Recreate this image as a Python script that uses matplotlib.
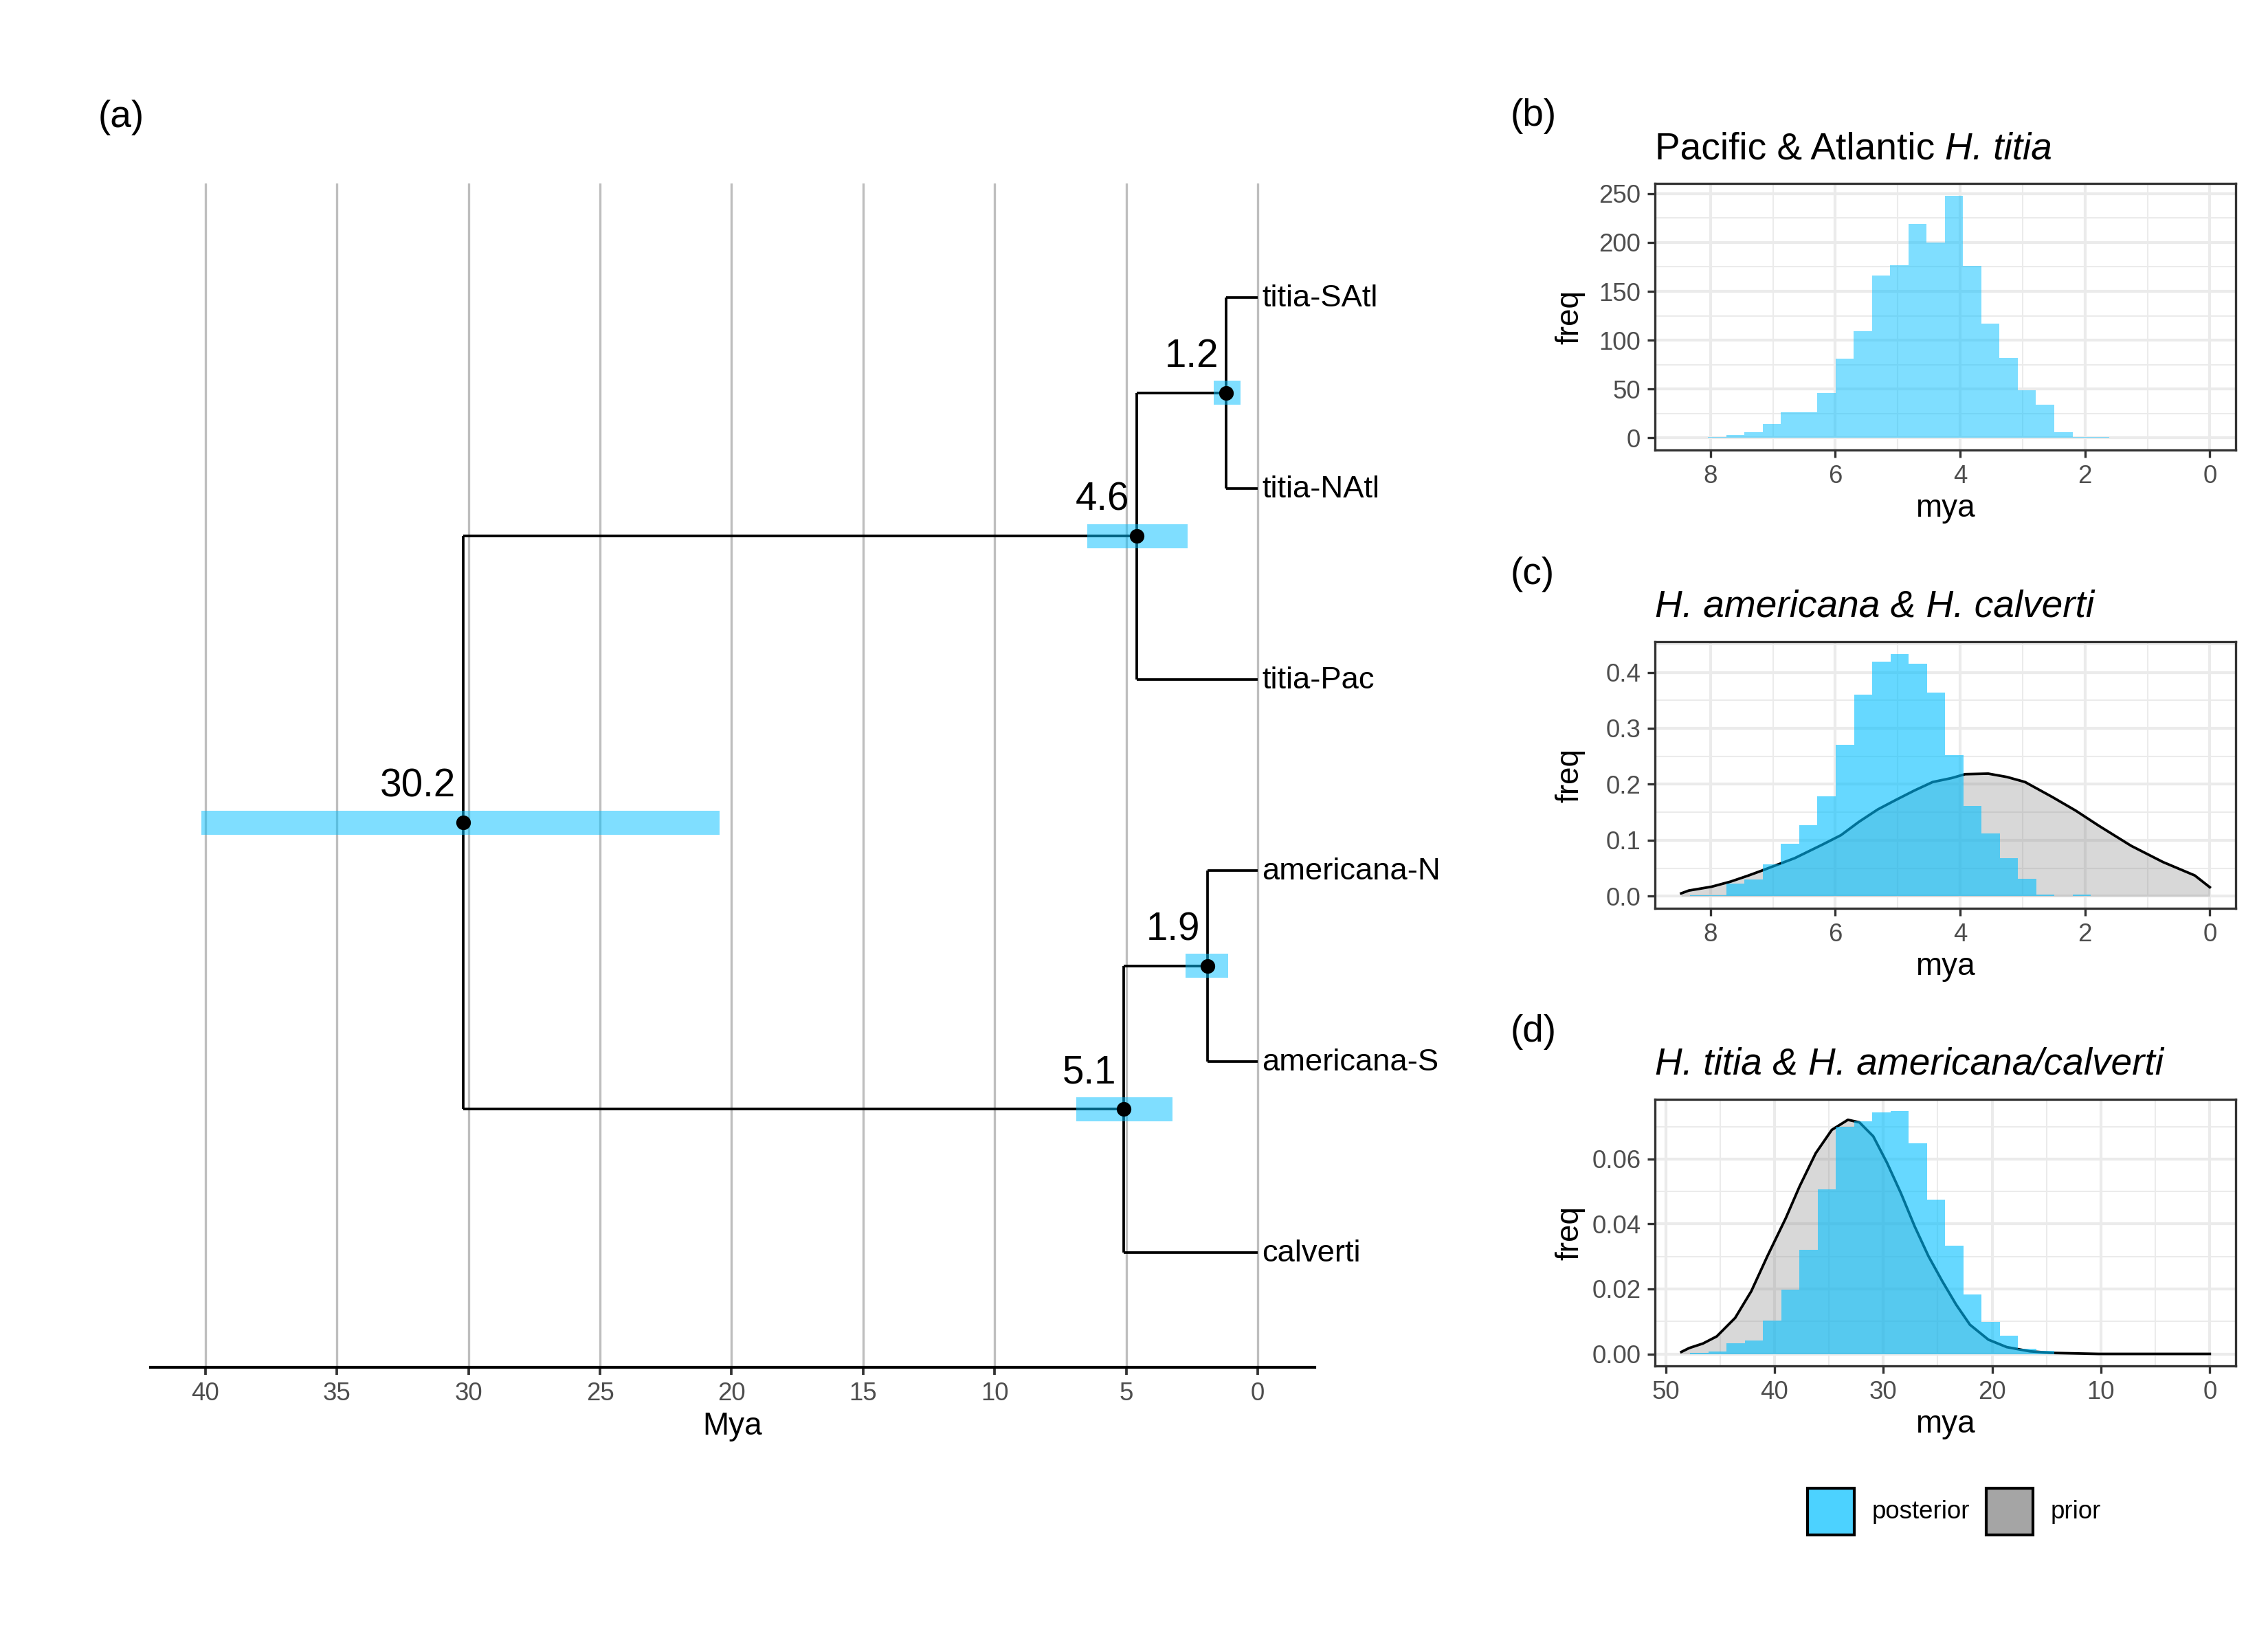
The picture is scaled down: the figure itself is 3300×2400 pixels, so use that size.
import matplotlib
matplotlib.use("Agg")
import matplotlib.pyplot as plt
from matplotlib.patches import Rectangle
from matplotlib.ticker import MultipleLocator
import numpy as np

plt.rcParams["font.family"] = ["Liberation Sans", "DejaVu Sans"]

W, H = 3300, 2400

# ---- panel (a): dated tree ----
tip_names = ["calverti", "americana-S", "americana-N", "titia-Pac", "titia-NAtl", "titia-SAtl"]
node_names = ["root", "titia", "atl", "amcal", "am"]
node_age = [30.2, 4.6, 1.2, 5.1, 1.9]
ci_young = [20.45, 2.66, 0.64, 3.23, 1.11]
ci_old = [40.16, 6.48, 1.67, 6.90, 2.74]
children = {
    "root": ["amcal", "titia"],
    "titia": ["titia-Pac", "atl"],
    "atl": ["titia-NAtl", "titia-SAtl"],
    "amcal": ["calverti", "am"],
    "am": ["americana-S", "americana-N"],
}

# ---- panel (b): Pacific & Atlantic H. titia posterior counts ----
b_start, b_width = 8.04, 0.292
b_counts = [1, 3, 6, 14, 26, 26, 46, 81, 109, 166, 177, 219, 200, 248,
            176, 117, 82, 49, 34, 6, 1, 1]

# ---- panel (c): H. americana & H. calverti ----
c_start, c_width = 8.33, 0.292
c_post = [0.002, 0.002, 0.022, 0.030, 0.057, 0.094, 0.127, 0.179, 0.271, 0.360,
          0.419, 0.433, 0.415, 0.364, 0.252, 0.161, 0.112, 0.068, 0.031, 0.003,
          0.0, 0.003]
c_prior_x = [8.47, 8.35, 7.98, 7.68, 7.39, 7.17, 6.65, 6.21, 5.91, 5.62, 5.32,
             5.03, 4.73, 4.44, 4.14, 3.92, 3.55, 3.25, 2.96, 2.52, 2.15, 1.78,
             1.26, 0.75, 0.24, 0.0]
c_prior_y = [0.005, 0.010, 0.017, 0.026, 0.037, 0.046, 0.068, 0.092, 0.109, 0.133,
             0.155, 0.172, 0.189, 0.204, 0.211, 0.218, 0.219, 0.213, 0.204, 0.177,
             0.153, 0.126, 0.090, 0.061, 0.037, 0.016]

# ---- panel (d): H. titia & H. americana/calverti ----
d_start, d_width = 47.76, 1.675
d_post = [0.0004, 0.0008, 0.0032, 0.0041, 0.0102, 0.0198, 0.0320, 0.0507, 0.0700,
          0.0716, 0.0744, 0.0747, 0.0648, 0.0476, 0.0333, 0.0184, 0.0098, 0.0057,
          0.0015, 0.0009]
d_prior_x = [48.56, 47.84, 46.57, 45.30, 43.61, 42.13, 40.65, 38.96, 37.69, 36.21,
             34.73, 33.25, 32.19, 30.92, 29.65, 28.38, 27.12, 25.85, 24.58, 23.31,
             22.04, 20.35, 18.66, 16.54, 14.42, 10.19, 0.0]
d_prior_y = [0.0006, 0.0018, 0.0032, 0.0054, 0.0111, 0.0193, 0.0301, 0.0418, 0.0516,
             0.0618, 0.0690, 0.0721, 0.0713, 0.0670, 0.0588, 0.0495, 0.0393, 0.0301,
             0.0224, 0.0152, 0.0090, 0.0044, 0.0021, 0.0008, 0.0003, 0.0, 0.0]

SKY = "#00BFFF"
PRIOR = "#7F7F7F"
TICK_C = "#4D4D4D"


def fx(px):
    return px / W


def fy(py):
    return 1 - py / H


fig = plt.figure(figsize=(11, 8), dpi=300)

# ================= panel (a) =================
ax = fig.add_axes([fx(219), fy(1990), fx(1913) - fx(219), fy(267) - fy(1990)])
ypos = {n: i + 1 for i, n in enumerate(tip_names)}
xpos = {n: 0.0 for n in tip_names}
for n, a in zip(node_names, node_age):
    xpos[n] = a


def node_y(n):
    if n in ypos:
        return ypos[n]
    ys = [node_y(c) for c in children[n]]
    ypos[n] = float(np.mean(ys))
    return ypos[n]


node_y("root")
for p, kids in children.items():
    ky = [ypos[k] for k in kids]
    ax.plot([xpos[p], xpos[p]], [min(ky), max(ky)], color="black", lw=0.9,
            solid_capstyle="butt", zorder=2)
    for k in kids:
        ax.plot([xpos[p], xpos[k]], [ypos[k], ypos[k]], color="black", lw=0.9,
                solid_capstyle="butt", zorder=2)

for n, lo, hi in zip(node_names, ci_young, ci_old):
    ax.barh(ypos[n], hi - lo, left=lo, height=0.125, color=SKY, alpha=0.5,
            lw=0, zorder=3)
nx = [xpos[n] for n in node_names]
ny = [ypos[n] for n in node_names]
ax.scatter(nx, ny, s=26, color="black", zorder=4, lw=0)
for n, a in zip(node_names, node_age):
    ax.annotate(f"{a:.1f}", (a, ypos[n]), xytext=(-2.6, 9), textcoords="offset points",
                ha="right", va="baseline", fontsize=13.6, zorder=5)
for t in tip_names:
    ax.annotate(t, (0, ypos[t]), xytext=(1.6, -0.5), textcoords="offset points",
                ha="left", va="center", fontsize=10.9, zorder=5)

ax.set_xlim(42.09, -2.17)
ax.set_ylim(0.398, 6.596)
ax.set_xticks([40, 35, 30, 25, 20, 15, 10, 5, 0])
ax.set_yticks([])
for s in ["top", "left", "right"]:
    ax.spines[s].set_visible(False)
ax.spines["bottom"].set_linewidth(1.0)
ax.grid(axis="x", color="#BEBEBE", lw=0.8)
ax.set_axisbelow(True)
ax.tick_params(axis="x", length=2.75, width=0.9, color="#333333",
               labelcolor=TICK_C, labelsize=8.8, pad=2.2)
fig.text(fx(1066), fy(2076), "Mya", ha="center", va="center", fontsize=11)
fig.text(fx(143), fy(171), "(a)", ha="left", va="center", fontsize=13.2)


# ================= histogram panels =================
def style_hist(ax, xlim, ylim, xmaj, xmin, ymaj, ymin):
    ax.set_xlim(*xlim)
    ax.set_ylim(*ylim)
    ax.xaxis.set_major_locator(MultipleLocator(xmaj))
    ax.xaxis.set_minor_locator(MultipleLocator(xmin))
    ax.yaxis.set_major_locator(MultipleLocator(ymaj))
    ax.yaxis.set_minor_locator(MultipleLocator(ymin))
    ax.grid(which="major", color="#EBEBEB", lw=1.0)
    ax.grid(which="minor", color="#EBEBEB", lw=0.5)
    ax.set_axisbelow(True)
    for s in ax.spines.values():
        s.set_color("#333333")
        s.set_linewidth(0.8)
    ax.tick_params(which="major", length=2.75, width=0.8, color="#333333",
                   labelcolor=TICK_C, labelsize=8.8, pad=2.2)
    ax.tick_params(which="minor", length=0)


def panel_box(top):
    return [fx(2408), fy(top + 388), fx(3253) - fx(2408), 388 / H]


def edges_centers(start, width, n):
    left = start - width * np.arange(n + 1)
    return (left[:-1] + left[1:]) / 2


# (b)
axb = fig.add_axes(panel_box(267))
cb = edges_centers(b_start, b_width, len(b_counts))
axb.bar(cb, b_counts, width=b_width, color=SKY, alpha=0.5, lw=0, zorder=2)
style_hist(axb, (8.89, -0.415), (-12.4, 260.4), 2, 1, 50, 25)

# (c)
axc = fig.add_axes(panel_box(934))
axc.fill_between(c_prior_x, c_prior_y, color=PRIOR, alpha=0.3, lw=0, zorder=1)
axc.plot(c_prior_x, c_prior_y, color="black", lw=0.9, zorder=1.5)
cc = edges_centers(c_start, c_width, len(c_post))
axc.bar(cc, c_post, width=c_width, color=SKY, alpha=0.6, lw=0, zorder=2)
style_hist(axc, (8.89, -0.415), (-0.0217, 0.4547), 2, 1, 0.1, 0.05)
axc.yaxis.set_major_formatter(plt.FormatStrFormatter("%.1f"))

# (d)
axd = fig.add_axes(panel_box(1600))
axd.fill_between(d_prior_x, d_prior_y, color=PRIOR, alpha=0.3, lw=0, zorder=1)
axd.plot(d_prior_x, d_prior_y, color="black", lw=0.9, zorder=1.5)
cd = edges_centers(d_start, d_width, len(d_post))
axd.bar(cd, d_post, width=d_width, color=SKY, alpha=0.6, lw=0, zorder=2)
style_hist(axd, (50.98, -2.38), (-0.0037, 0.0784), 10, 5, 0.02, 0.01)
axd.yaxis.set_major_formatter(plt.FormatStrFormatter("%.2f"))

# titles: (b) mixes upright and italic, so it is built from two pieces
renderer = fig.canvas.get_renderer()
t0 = fig.text(fx(2408), fy(267 - 36), "Pacific & Atlantic ", ha="left",
              va="baseline", fontsize=13.2)
x_end = t0.get_window_extent(renderer).x1 / fig.bbox.width
fig.text(x_end, fy(267 - 36), "H. titia", ha="left", va="baseline",
         fontsize=13.2, fontstyle="italic")
fig.text(fx(2408), fy(934 - 36), "H. americana & H. calverti", ha="left",
         va="baseline", fontsize=13.2, fontstyle="italic")
fig.text(fx(2408), fy(1600 - 36), "H. titia & H. americana/calverti", ha="left",
         va="baseline", fontsize=13.2, fontstyle="italic")

for tag, top in zip(["(b)", "(c)", "(d)"], [267, 934, 1600]):
    fig.text(fx(2198), fy(top - 98), tag, ha="left", va="center", fontsize=13.2)
    fig.text(fx(2830), fy(top + 388 + 85), "mya", ha="center", va="center", fontsize=11)
    fig.text(fx(2284), fy(top + 194), "freq", ha="center", va="center",
             rotation=90, fontsize=11)

# legend
for x0, fc, lab in [(2630, SKY, "posterior"), (2890, PRIOR, "prior")]:
    fig.add_artist(Rectangle((fx(x0), fy(2234)), 68 / W, 68 / H, transform=fig.transFigure,
                             facecolor=fc, alpha=0.7, edgecolor="none"))
    fig.add_artist(Rectangle((fx(x0), fy(2234)), 68 / W, 68 / H, transform=fig.transFigure,
                             facecolor="none", edgecolor="black", lw=1.0))
    fig.text(fx(x0 + 94), fy(2200), lab, ha="left", va="center", fontsize=8.8)

fig.savefig("out.png", dpi=300, facecolor="white")
